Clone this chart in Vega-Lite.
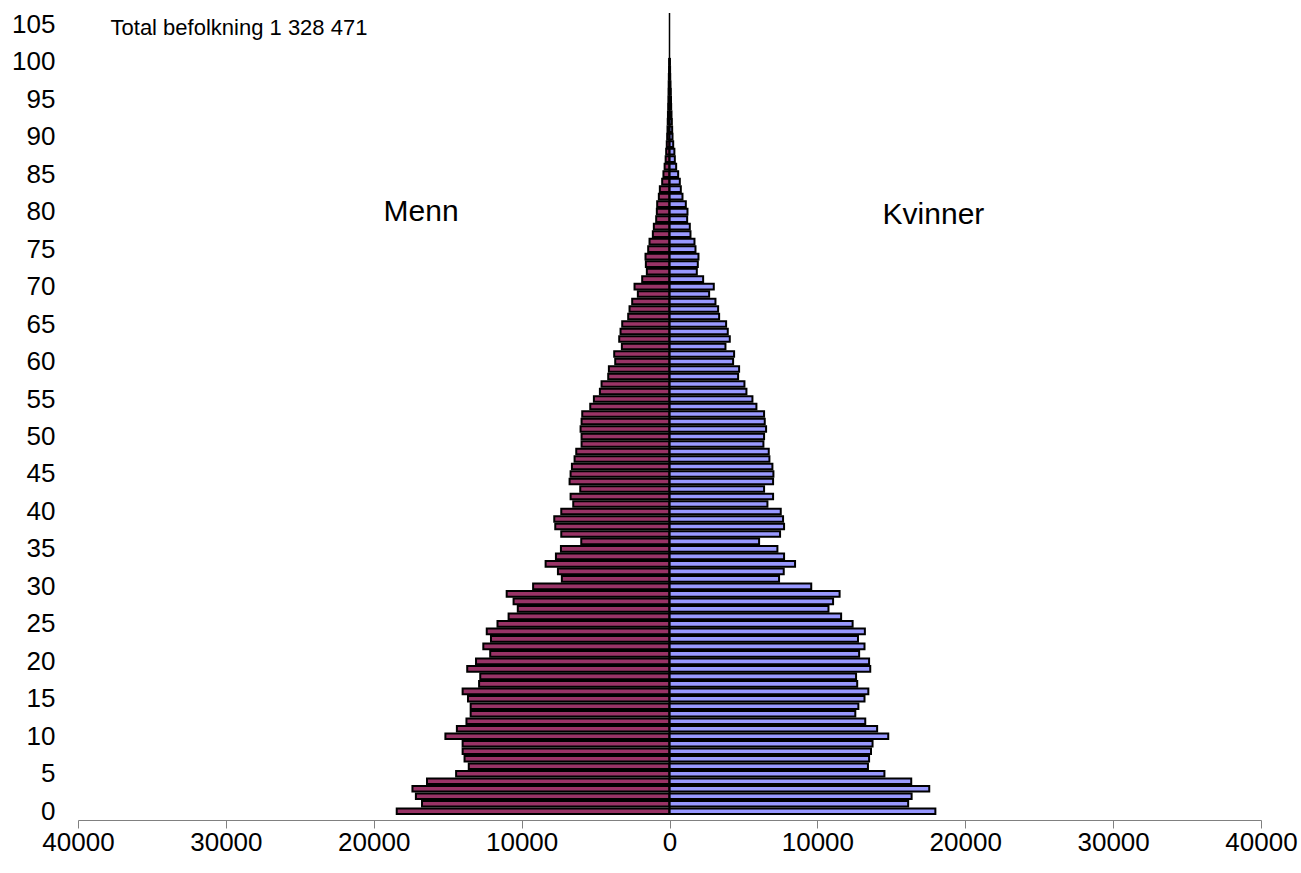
{
  "$schema": "https://vega.github.io/schema/vega-lite/v6.json",
  "width": 1183,
  "height": 812,
  "autosize": {"type": "none"},
  "padding": {"left": 78, "top": 8, "right": 40, "bottom": 53},
  "background": "white",
  "config": {
    "view": {"stroke": null},
    "font": "Liberation Sans",
    "axis": {"labelFont": "Liberation Sans", "labelColor": "black", "grid": false, "labelOverlap": false},
    "axisY": {"labelOverlap": false, "labelBound": false}
  },
  "datasets": {
    "pop": [
    {"age":0,"sex":"Menn","count":18446},{"age":1,"sex":"Menn","count":16736},{"age":2,"sex":"Menn","count":17150},{"age":3,"sex":"Menn","count":17383},{"age":4,"sex":"Menn","count":16399},
    {"age":5,"sex":"Menn","count":14430},{"age":6,"sex":"Menn","count":13575},{"age":7,"sex":"Menn","count":13860},{"age":8,"sex":"Menn","count":13990},{"age":9,"sex":"Menn","count":13990},
    {"age":10,"sex":"Menn","count":15155},{"age":11,"sex":"Menn","count":14378},{"age":12,"sex":"Menn","count":13731},{"age":13,"sex":"Menn","count":13446},{"age":14,"sex":"Menn","count":13446},
    {"age":15,"sex":"Menn","count":13627},{"age":16,"sex":"Menn","count":13990},{"age":17,"sex":"Menn","count":12876},{"age":18,"sex":"Menn","count":12798},{"age":19,"sex":"Menn","count":13679},
    {"age":20,"sex":"Menn","count":13083},{"age":21,"sex":"Menn","count":12124},{"age":22,"sex":"Menn","count":12591},{"age":23,"sex":"Menn","count":12073},{"age":24,"sex":"Menn","count":12358},
    {"age":25,"sex":"Menn","count":11632},{"age":26,"sex":"Menn","count":10881},{"age":27,"sex":"Menn","count":10259},{"age":28,"sex":"Menn","count":10544},{"age":29,"sex":"Menn","count":11010},
    {"age":30,"sex":"Menn","count":9223},{"age":31,"sex":"Menn","count":7280},{"age":32,"sex":"Menn","count":7545},{"age":33,"sex":"Menn","count":8378},{"age":34,"sex":"Menn","count":7680},
    {"age":35,"sex":"Menn","count":7342},{"age":36,"sex":"Menn","count":5968},{"age":37,"sex":"Menn","count":7320},{"age":38,"sex":"Menn","count":7725},{"age":39,"sex":"Menn","count":7793},
    {"age":40,"sex":"Menn","count":7320},{"age":41,"sex":"Menn","count":6509},{"age":42,"sex":"Menn","count":6689},{"age":43,"sex":"Menn","count":6036},{"age":44,"sex":"Menn","count":6757},
    {"age":45,"sex":"Menn","count":6689},{"age":46,"sex":"Menn","count":6599},{"age":47,"sex":"Menn","count":6419},{"age":48,"sex":"Menn","count":6306},{"age":49,"sex":"Menn","count":5946},
    {"age":50,"sex":"Menn","count":5946},{"age":51,"sex":"Menn","count":6014},{"age":52,"sex":"Menn","count":5946},{"age":53,"sex":"Menn","count":5901},{"age":54,"sex":"Menn","count":5360},
    {"age":55,"sex":"Menn","count":5113},{"age":56,"sex":"Menn","count":4707},{"age":57,"sex":"Menn","count":4595},{"age":58,"sex":"Menn","count":4144},{"age":59,"sex":"Menn","count":4099},
    {"age":60,"sex":"Menn","count":3671},{"age":61,"sex":"Menn","count":3739},{"age":62,"sex":"Menn","count":3221},{"age":63,"sex":"Menn","count":3401},{"age":64,"sex":"Menn","count":3311},
    {"age":65,"sex":"Menn","count":3198},{"age":66,"sex":"Menn","count":2793},{"age":67,"sex":"Menn","count":2703},{"age":68,"sex":"Menn","count":2523},{"age":69,"sex":"Menn","count":2140},
    {"age":70,"sex":"Menn","count":2365},{"age":71,"sex":"Menn","count":1847},{"age":72,"sex":"Menn","count":1532},{"age":73,"sex":"Menn","count":1599},{"age":74,"sex":"Menn","count":1622},
    {"age":75,"sex":"Menn","count":1441},{"age":76,"sex":"Menn","count":1351},{"age":77,"sex":"Menn","count":1126},{"age":78,"sex":"Menn","count":1059},{"age":79,"sex":"Menn","count":901},
    {"age":80,"sex":"Menn","count":856},{"age":81,"sex":"Menn","count":833},{"age":82,"sex":"Menn","count":721},{"age":83,"sex":"Menn","count":653},{"age":84,"sex":"Menn","count":495},
    {"age":85,"sex":"Menn","count":410},{"age":86,"sex":"Menn","count":330},{"age":87,"sex":"Menn","count":260},{"age":88,"sex":"Menn","count":225},{"age":89,"sex":"Menn","count":185},
    {"age":90,"sex":"Menn","count":158},{"age":91,"sex":"Menn","count":135},{"age":92,"sex":"Menn","count":120},{"age":93,"sex":"Menn","count":105},{"age":94,"sex":"Menn","count":90},
    {"age":95,"sex":"Menn","count":75},{"age":96,"sex":"Menn","count":65},{"age":97,"sex":"Menn","count":55},{"age":98,"sex":"Menn","count":45},{"age":99,"sex":"Menn","count":30},
    {"age":100,"sex":"Menn","count":20},
    {"age":0,"sex":"Kvinner","count":17979},{"age":1,"sex":"Kvinner","count":16140},{"age":2,"sex":"Kvinner","count":16373},{"age":3,"sex":"Kvinner","count":17565},{"age":4,"sex":"Kvinner","count":16347},
    {"age":5,"sex":"Kvinner","count":14534},{"age":6,"sex":"Kvinner","count":13420},{"age":7,"sex":"Kvinner","count":13497},{"age":8,"sex":"Kvinner","count":13627},{"age":9,"sex":"Kvinner","count":13731},
    {"age":10,"sex":"Kvinner","count":14793},{"age":11,"sex":"Kvinner","count":14041},{"age":12,"sex":"Kvinner","count":13238},{"age":13,"sex":"Kvinner","count":12565},{"age":14,"sex":"Kvinner","count":12772},
    {"age":15,"sex":"Kvinner","count":13187},{"age":16,"sex":"Kvinner","count":13446},{"age":17,"sex":"Kvinner","count":12694},{"age":18,"sex":"Kvinner","count":12617},{"age":19,"sex":"Kvinner","count":13575},
    {"age":20,"sex":"Kvinner","count":13497},{"age":21,"sex":"Kvinner","count":12824},{"age":22,"sex":"Kvinner","count":13187},{"age":23,"sex":"Kvinner","count":12746},{"age":24,"sex":"Kvinner","count":13212},
    {"age":25,"sex":"Kvinner","count":12383},{"age":26,"sex":"Kvinner","count":11606},{"age":27,"sex":"Kvinner","count":10751},{"age":28,"sex":"Kvinner","count":11062},{"age":29,"sex":"Kvinner","count":11503},
    {"age":30,"sex":"Kvinner","count":9585},{"age":31,"sex":"Kvinner","count":7409},{"age":32,"sex":"Kvinner","count":7725},{"age":33,"sex":"Kvinner","count":8491},{"age":34,"sex":"Kvinner","count":7748},
    {"age":35,"sex":"Kvinner","count":7297},{"age":36,"sex":"Kvinner","count":6059},{"age":37,"sex":"Kvinner","count":7477},{"age":38,"sex":"Kvinner","count":7748},{"age":39,"sex":"Kvinner","count":7680},
    {"age":40,"sex":"Kvinner","count":7523},{"age":41,"sex":"Kvinner","count":6622},{"age":42,"sex":"Kvinner","count":7005},{"age":43,"sex":"Kvinner","count":6396},{"age":44,"sex":"Kvinner","count":7005},
    {"age":45,"sex":"Kvinner","count":7027},{"age":46,"sex":"Kvinner","count":6959},{"age":47,"sex":"Kvinner","count":6757},{"age":48,"sex":"Kvinner","count":6712},{"age":49,"sex":"Kvinner","count":6351},
    {"age":50,"sex":"Kvinner","count":6396},{"age":51,"sex":"Kvinner","count":6532},{"age":52,"sex":"Kvinner","count":6441},{"age":53,"sex":"Kvinner","count":6396},{"age":54,"sex":"Kvinner","count":5878},
    {"age":55,"sex":"Kvinner","count":5608},{"age":56,"sex":"Kvinner","count":5203},{"age":57,"sex":"Kvinner","count":5068},{"age":58,"sex":"Kvinner","count":4640},{"age":59,"sex":"Kvinner","count":4707},
    {"age":60,"sex":"Kvinner","count":4302},{"age":61,"sex":"Kvinner","count":4369},{"age":62,"sex":"Kvinner","count":3784},{"age":63,"sex":"Kvinner","count":4077},{"age":64,"sex":"Kvinner","count":3941},
    {"age":65,"sex":"Kvinner","count":3829},{"age":66,"sex":"Kvinner","count":3356},{"age":67,"sex":"Kvinner","count":3288},{"age":68,"sex":"Kvinner","count":3108},{"age":69,"sex":"Kvinner","count":2680},
    {"age":70,"sex":"Kvinner","count":2995},{"age":71,"sex":"Kvinner","count":2275},{"age":72,"sex":"Kvinner","count":1847},{"age":73,"sex":"Kvinner","count":1914},{"age":74,"sex":"Kvinner","count":1959},
    {"age":75,"sex":"Kvinner","count":1757},{"age":76,"sex":"Kvinner","count":1689},{"age":77,"sex":"Kvinner","count":1419},{"age":78,"sex":"Kvinner","count":1374},{"age":79,"sex":"Kvinner","count":1194},
    {"age":80,"sex":"Kvinner","count":1216},{"age":81,"sex":"Kvinner","count":1104},{"age":82,"sex":"Kvinner","count":878},{"age":83,"sex":"Kvinner","count":766},{"age":84,"sex":"Kvinner","count":698},
    {"age":85,"sex":"Kvinner","count":586},{"age":86,"sex":"Kvinner","count":450},{"age":87,"sex":"Kvinner","count":360},{"age":88,"sex":"Kvinner","count":330},{"age":89,"sex":"Kvinner","count":250},
    {"age":90,"sex":"Kvinner","count":203},{"age":91,"sex":"Kvinner","count":180},{"age":92,"sex":"Kvinner","count":158},{"age":93,"sex":"Kvinner","count":135},{"age":94,"sex":"Kvinner","count":113},
    {"age":95,"sex":"Kvinner","count":101},{"age":96,"sex":"Kvinner","count":90},{"age":97,"sex":"Kvinner","count":68},{"age":98,"sex":"Kvinner","count":50},{"age":99,"sex":"Kvinner","count":40},
    {"age":100,"sex":"Kvinner","count":30}
    ],
    "one": [{}]
  },
  "resolve": {"scale": {"x": "independent"}, "axis": {"x": "independent"}},
  "layer": [
    {
      "data": {"name": "pop"},
      "transform": [{"filter": "datum.sex === 'Menn'"}],
      "mark": {"type": "bar", "orient": "horizontal", "height": 5.6, "fill": "#993366", "stroke": "black", "strokeWidth": 2},
      "encoding": {
        "x": {"field": "count", "type": "quantitative",
              "scale": {"domain": [0, 40000], "range": [591.5, 0], "nice": false},
              "axis": {"orient": "bottom", "title": null, "values": [0, 10000, 20000, 30000, 40000],
                       "format": "d", "labelFontSize": 26, "labelPadding": 1, "tickSize": 8,
                       "domainColor": "#808080", "tickColor": "#808080", "domainWidth": 1, "tickWidth": 1,
                       "labelFlush": false, "labelOverlap": false}},
        "y": {"field": "age", "type": "quantitative",
              "scale": {"domain": [-0.5, 106.5], "nice": false, "zero": false},
              "axis": {"title": null, "tickCount": 22, "values": [0,5,10,15,20,25,30,35,40,45,50,55,60,65,70,75,80,85,90,95,100,105],
                       "domain": false, "ticks": false, "tickSize": 0, "labelPadding": 23, "labelFontSize": 26,
                       "labelOverlap": false}}
      }
    },
    {
      "data": {"name": "pop"},
      "transform": [{"filter": "datum.sex === 'Kvinner'"}],
      "mark": {"type": "bar", "orient": "horizontal", "height": 5.6, "fill": "#9999FF", "stroke": "black", "strokeWidth": 2},
      "encoding": {
        "x": {"field": "count", "type": "quantitative",
              "scale": {"domain": [0, 40000], "range": [591.5, 1183], "nice": false},
              "axis": {"orient": "bottom", "title": null, "values": [10000, 20000, 30000, 40000],
                       "format": "d", "labelFontSize": 26, "labelPadding": 1, "tickSize": 8,
                       "domainColor": "#808080", "tickColor": "#808080", "domainWidth": 1, "tickWidth": 1,
                       "labelFlush": false, "labelOverlap": false}},
        "y": {"field": "age", "type": "quantitative"}
      }
    },
    {
      "data": {"name": "one"},
      "mark": {"type": "rule", "color": "black", "strokeWidth": 1.5},
      "encoding": {
        "x": {"datum": 0, "type": "quantitative", "scale": {"domain": [0, 40000], "range": [591.5, 1183], "nice": false}, "axis": null},
        "y": {"datum": -0.5, "type": "quantitative"},
        "y2": {"datum": 106.5}
      }
    },
    {
      "data": {"name": "one"},
      "mark": {"type": "text", "text": "Menn", "fontSize": 30, "align": "center", "baseline": "middle", "color": "black", "font": "Liberation Sans"},
      "encoding": {
        "x": {"datum": 16800, "type": "quantitative", "scale": {"domain": [0, 40000], "range": [591.5, 0], "nice": false}, "axis": null},
        "y": {"datum": 80, "type": "quantitative"}
      }
    },
    {
      "data": {"name": "one"},
      "mark": {"type": "text", "text": "Kvinner", "fontSize": 30, "align": "center", "baseline": "middle", "color": "black", "font": "Liberation Sans"},
      "encoding": {
        "x": {"datum": 17850, "type": "quantitative", "scale": {"domain": [0, 40000], "range": [591.5, 1183], "nice": false}, "axis": null},
        "y": {"datum": 79.6, "type": "quantitative"}
      }
    },
    {
      "data": {"name": "one"},
      "mark": {"type": "text", "text": "Total befolkning 1 328 471", "fontSize": 22, "align": "left", "baseline": "middle", "color": "black", "font": "Liberation Sans"},
      "encoding": {
        "x": {"datum": 37800, "type": "quantitative", "scale": {"domain": [0, 40000], "range": [591.5, 0], "nice": false}, "axis": null},
        "y": {"datum": 104.5, "type": "quantitative"}
      }
    }
  ]
}
